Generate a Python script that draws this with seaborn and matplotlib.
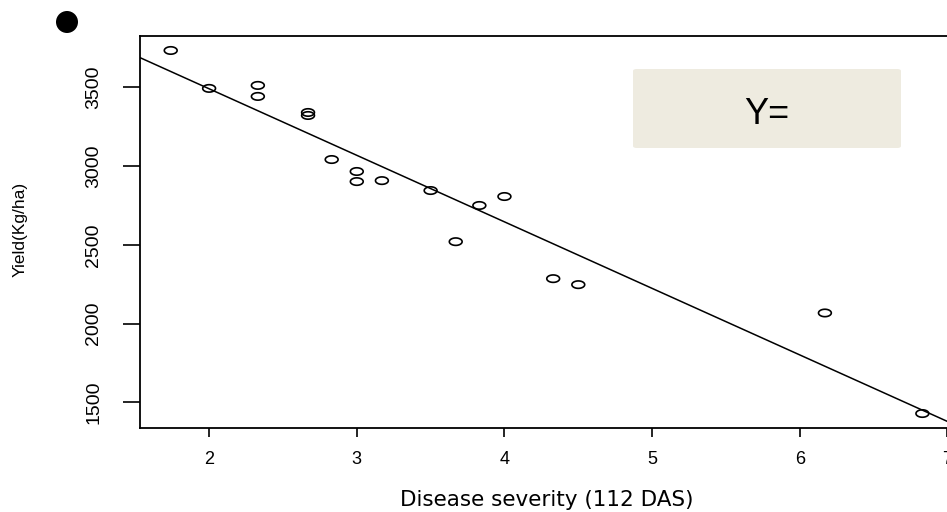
import numpy as np
import pandas as pd
import seaborn as sns
import matplotlib
matplotlib.use("Agg")
import matplotlib.pyplot as plt
from matplotlib.path import Path
from matplotlib.patches import Ellipse, FancyBboxPatch

# ---- data ----
severity = [1.74, 2.0, 2.33, 2.33, 2.67, 2.67, 2.83, 3.0, 3.0, 3.17,
            3.5, 3.83, 4.0, 3.67, 4.33, 4.5, 6.17, 6.83]
yield_kg = [3735, 3494, 3513, 3443, 3341, 3322, 3042, 2966, 2902, 2908,
            2845, 2750, 2807, 2520, 2285, 2247, 2067, 1428]
x_ticks = [2, 3, 4, 5, 6, 7]
y_ticks = [1500, 2000, 2500, 3000, 3500]
x_label = "Disease severity (112 DAS)"
y_label = "Yield(Kg/ha)"
box_text = "Y="

df = pd.DataFrame({"severity": severity, "yield": yield_kg})

sns.set_style("white")
plt.rcParams["font.family"] = ["Liberation Sans", "DejaVu Sans"]
plt.rcParams["text.color"] = "black"
plt.rcParams["axes.labelcolor"] = "black"
plt.rcParams["xtick.color"] = "black"
plt.rcParams["ytick.color"] = "black"

W, H = 947, 512
fig = plt.figure(figsize=(W / 100, H / 100), dpi=100)
ax = fig.add_axes([140 / W, 1 - 428 / H, 812.5 / W, 392 / H])

ax.set_xlim(1.532, 7.034)
ax.set_ylim(1336, 3827)

# elliptical open-circle marker (R points on a stretched image)
t = np.linspace(0, 2 * np.pi, 60)
ell = Path(np.column_stack([0.5 * np.cos(t), 0.29 * np.sin(t)]), closed=True)

sns.regplot(data=df, x="severity", y="yield", ax=ax, ci=None, truncate=False,
            scatter=False, line_kws=dict(color="black", lw=1.1))
sns.scatterplot(data=df, x="severity", y="yield", ax=ax, marker=ell, s=85,
                facecolor="none", edgecolor="black", linewidth=1.2, zorder=3)

ax.set_xticks(x_ticks)
ax.set_yticks(y_ticks)
ax.set_xticklabels([str(v) for v in x_ticks], fontsize=13)
ax.set_yticklabels([str(v) for v in y_ticks], fontsize=14, rotation=90,
                   va="center")
ax.tick_params(axis="x", direction="out", length=6.5, width=1.2, pad=10,
               color="black", labelcolor="black", bottom=True)
ax.tick_params(axis="y", direction="out", length=12.2, width=1.2, pad=15,
               color="black", labelcolor="black", left=True)
for sp in ax.spines.values():
    sp.set_color("black")
    sp.set_linewidth(1.3)

ax.set_xlabel(x_label, fontsize=15.5, labelpad=16, color="black",
              family=["DejaVu Sans"])
ax.set_ylabel("")
fig.text(20 / W, 1 - 229 / H, y_label, rotation=90, fontsize=12.5,
         ha="center", va="center", color="black")

# beige annotation box
box = FancyBboxPatch((633 / W, 1 - 148 / H), 268 / W, 79 / H,
                     boxstyle="round,pad=0,rounding_size=0.004",
                     transform=fig.transFigure, facecolor="#EEEBE0",
                     edgecolor="none", zorder=2)
fig.add_artist(box)
fig.text(767 / W, 1 - 114 / H, box_text, fontsize=26, ha="center",
         va="center", color="black", zorder=3)

# bullet dot
fig.add_artist(Ellipse((67 / W, 1 - 22 / H), 22 / W, 22 / H,
                       transform=fig.transFigure, facecolor="black",
                       edgecolor="none", zorder=3))

fig.savefig("out.png", dpi=100)
